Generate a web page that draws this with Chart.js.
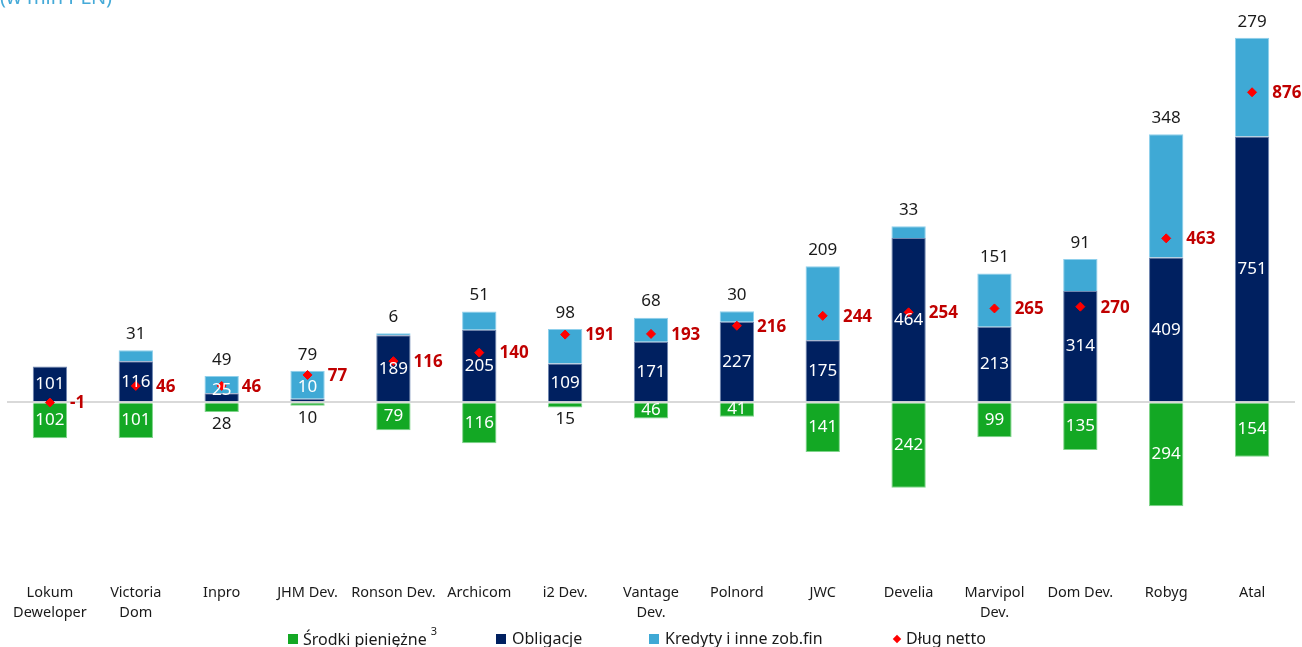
<!DOCTYPE html>
<html lang="pl">
<head>
<meta charset="UTF-8">
<title>Zadłużenie deweloperów</title>
<script src="https://cdn.jsdelivr.net/npm/chart.js@4/dist/chart.umd.min.js"></script>
<style>
    html, body { margin: 0; padding: 0; background: #fff; overflow: hidden; }
    .wrap { position: relative; width: 1302px; height: 647px; font-family: "Noto Sans", sans-serif; }
    .unit { position: absolute; left: 0; top: -17px; font-size: 20px; color: #45aad8; }
    .legend { position: absolute; top: 627px; left: 0; width: 1302px; height: 24px; font-size: 16px; color: #1a1a1a; }
    .legend span { position: absolute; white-space: nowrap; }
    .legend i { position: absolute; width: 10px; height: 10px; top: 7px; }
    .legend sup { font-size: 11px; position: relative; top: -4px; margin-left: 4px; }
</style>
</head>
<body>
<div class="wrap">
    <canvas id="debt" width="1302" height="647"></canvas>
    <div class="unit">(w mln PLN)</div>
    <div class="legend">
        <i style="left:288px;background:#13a824"></i><span style="left:303px">Środki pieniężne<sup>3</sup></span>
        <i style="left:496px;background:#002060"></i><span style="left:512px">Obligacje</span>
        <i style="left:649px;background:#3fa9d5"></i><span style="left:665px">Kredyty i inne zob.fin</span>
        <i style="left:894px;top:9px;width:6px;height:6px;background:#ff0000;transform:rotate(45deg)"></i><span style="left:906px">Dług netto</span>
    </div>
</div>

<script>
    const categories = [['Lokum', 'Deweloper'], ['Victoria', 'Dom'], 'Inpro', 'JHM Dev.', 'Ronson Dev.', 'Archicom', 'i2 Dev.',
        ['Vantage', 'Dev.'], 'Polnord', 'JWC', 'Develia', ['Marvipol', 'Dev.'], 'Dom Dev.', 'Robyg', 'Atal'];
    const cash = [102, 101, 28, 10, 79, 116, 15, 46, 41, 141, 242, 99, 135, 294, 154];
    const bonds = [101, 116, 25, 10, 189, 205, 109, 171, 227, 175, 464, 213, 314, 409, 751];
    const loans = [0, 31, 49, 79, 6, 51, 98, 68, 30, 209, 33, 151, 91, 348, 279];
    const netDebt = [-1, 46, 46, 77, 116, 140, 191, 193, 216, 244, 254, 265, 270, 463, 876];

    // etykiety wartości rysowane po słupkach
    const valueLabels = {
        id: 'valueLabels',
        afterDatasetsDraw(chart) {
            const ctx = chart.ctx;
            const y = chart.scales.y;
            const bondMeta = chart.getDatasetMeta(1);
            const netMeta = chart.getDatasetMeta(3);
            ctx.save();
            ctx.textAlign = 'center';
            ctx.textBaseline = 'middle';
            ctx.font = '17px "Noto Sans"';
            for (let i = 0; i < categories.length; i++) {
                const x = bondMeta.data[i].x;
                const zero = y.getPixelForValue(0);

                // gotówka
                const cBottom = y.getPixelForValue(-cash[i]);
                if (cBottom - zero > 12) {
                    ctx.fillStyle = '#ffffff';
                    ctx.fillText(cash[i], x, (zero + cBottom) / 2);
                } else {
                    ctx.fillStyle = '#1a1a1a';
                    ctx.fillText(cash[i], x, cBottom + 12);
                }

                // obligacje
                const bTop = y.getPixelForValue(bonds[i]);
                const sTop = y.getPixelForValue(bonds[i] + loans[i]);
                ctx.fillStyle = '#ffffff';
                if (zero - bTop > 22) {
                    ctx.fillText(bonds[i], x, (zero + bTop) / 2);
                } else {
                    ctx.fillText(bonds[i], x, (zero + sTop) / 2 + 1);
                }

                // kredyty
                if (loans[i] > 0) {
                    ctx.fillStyle = '#1a1a1a';
                    ctx.fillText(loans[i], x, sTop - 16);
                }
            }
            ctx.textAlign = 'left';
            ctx.font = 'bold 17px "Noto Sans"';
            ctx.fillStyle = '#c00000';
            for (let i = 0; i < categories.length; i++) {
                const pt = netMeta.data[i];
                const half = bondMeta.data[i].width / 2;
                ctx.fillText(netDebt[i], pt.x + half + 3, pt.y + 1);
            }
            ctx.restore();
        }
    };

    new Chart(document.getElementById('debt'), {
        data: {
            labels: categories,
            datasets: [{
                type: 'bar',
                label: 'Środki pieniężne',
                data: cash.map(v => -v),
                backgroundColor: '#13a824',
                borderColor: '#7fd48a',
                borderWidth: 1,
                stack: 'debt',
                order: 2
            }, {
                type: 'bar',
                label: 'Obligacje',
                data: bonds,
                backgroundColor: '#002060',
                borderColor: '#6f86b0',
                borderWidth: 1,
                stack: 'debt',
                order: 2
            }, {
                type: 'bar',
                label: 'Kredyty i inne zob.fin',
                data: loans,
                backgroundColor: '#3fa9d5',
                borderColor: '#8fd0ec',
                borderWidth: 1,
                stack: 'debt',
                order: 2
            }, {
                type: 'line',
                label: 'Dług netto',
                data: netDebt,
                showLine: false,
                pointStyle: 'rectRot',
                pointRadius: 4.5,
                pointBackgroundColor: '#ff0000',
                pointBorderColor: '#ff0000',
                stack: 'net',
                order: 1
            }]
        },
        options: {
            responsive: false,
            animation: false,
            layout: { padding: { top: 13, bottom: 3, left: 7, right: 7 } },
            plugins: {
                legend: { display: false },
                tooltip: { enabled: false }
            },
            datasets: {
                bar: { barPercentage: 0.4, categoryPercentage: 1.0 }
            },
            scales: {
                x: {
                    stacked: true,
                    grid: { display: false, drawTicks: false },
                    border: { display: false },
                    afterFit: s => { s.paddingLeft = 0; s.paddingRight = 0; },
                    ticks: {
                        padding: 21,
                        maxRotation: 0,
                        autoSkip: false,
                        color: '#1a1a1a',
                        font: { family: 'Noto Sans', size: 14.5, lineHeight: 1.4 }
                    }
                },
                y: {
                    stacked: true,
                    min: -450,
                    max: 1100,
                    border: { display: false },
                    ticks: { display: false, stepSize: 50 },
                    afterFit: s => { s.width = 0; },
                    grid: {
                        drawTicks: false,
                        lineWidth: 2,
                        color: c => c.tick.value === 0 ? '#d9d9d9' : 'rgba(0,0,0,0)'
                    }
                }
            }
        },
        plugins: [valueLabels]
    });
</script>
</body>
</html>
